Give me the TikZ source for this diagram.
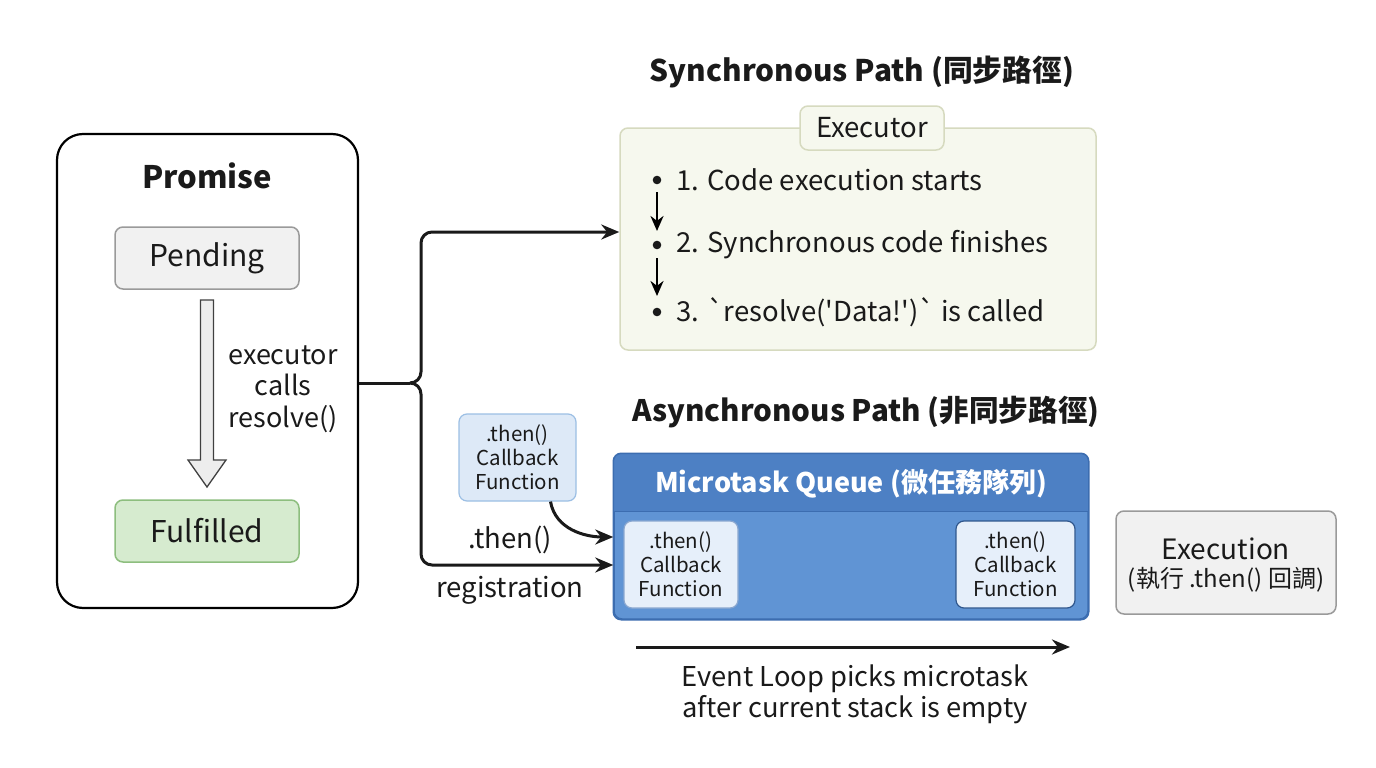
\documentclass[tikz,border=0pt]{standalone}
\usepackage{fontspec}
\setmainfont{Noto Sans CJK TC}[Ligatures=TeXOff]
\usetikzlibrary{arrows.meta,calc}
\definecolor{pendfill}{HTML}{F1F1F1}
\definecolor{pendline}{HTML}{9A9A9A}
\definecolor{fulfill}{HTML}{D6EBCF}
\definecolor{fulline}{HTML}{8DBE7E}
\definecolor{execfill}{HTML}{F6F8EE}
\definecolor{execline}{HTML}{D6DABF}
\definecolor{cbfill}{HTML}{DDE9F7}
\definecolor{cbline}{HTML}{9CBFE4}
\definecolor{qbody}{HTML}{6094D4}
\definecolor{qhead}{HTML}{4D80C4}
\definecolor{qline}{HTML}{3C6DB0}
\definecolor{inner}{HTML}{E6EFFA}
\definecolor{txt}{HTML}{1A1A1A}
\tikzset{
  box/.style={draw, rounded corners=8pt, line width=1.5pt, inner sep=0pt, align=center, text=txt},
  conn/.style={line width=3pt, -{Stealth[length=18pt,width=15pt]}, draw=txt},
  lbl/.style={text=txt, align=center, inner sep=0pt},
}
\begin{document}
\begin{tikzpicture}[x=1pt,y=-1pt]
\useasboundingbox[fill=white] (0,0) rectangle (1376,768);

% Promise
\node[box, draw=black, line width=2.2pt, rounded corners=26pt, minimum width=301pt, minimum height=474pt] (promise) at (207.5,371) {};
\node[lbl, font=\bfseries\fontsize{31}{34}\selectfont] (ptitle) at (207,176) {Promise};
\node[box, fill=pendfill, draw=pendline, minimum width=184pt, minimum height=62pt, font=\fontsize{30}{32}\selectfont] (pending) at (207,258) {Pending};
\node[box, fill=fulfill, draw=fulline, minimum width=184pt, minimum height=62pt, font=\fontsize{30}{32}\selectfont] (fulfilled) at (207,531) {Fulfilled};
% hollow arrow
\draw[line width=1.3pt, draw=black!75, fill=black!7, line join=miter]
  (200.5,300) -- (213.5,300) -- (213.5,460) -- (226,460) -- (207,487) -- (188,460) -- (200.5,460) -- cycle;
\node[lbl, font=\fontsize{27}{31.5}\selectfont] (execlbl) at (283,389) {executor\\calls\\resolve()};

% Synchronous path
\node[lbl, font=\bfseries\fontsize{29.8}{32}\selectfont] (stitle) at (862,72) {Synchronous Path (同步路徑)};
\node[box, fill=execfill, draw=execline, minimum width=476pt, minimum height=222pt] (exec) at (858,239) {};
\node[box, fill=execfill, draw=execline, minimum width=144pt, minimum height=44pt, font=\fontsize{27.5}{30}\selectfont] (exectab) at (872,128) {Executor};
\foreach \y/\t/\n in {180/{1. Code execution starts}/s1, 245/{2. Synchronous code finishes}/s2, 312/{3. `resolve('Data!')` is called}/s3}{
  \fill[txt] (657,\y) circle (4.3pt);
  \node[lbl, anchor=west, font=\fontsize{27.5}{30}\selectfont] (\n) at (676,\y) {\t};
}
\coordinate (a1s) at (657,192); \coordinate (a1e) at (657,231);
\coordinate (a2s) at (657,258); \coordinate (a2e) at (657,296);
\draw[line width=2.6pt, -{Stealth[length=15pt,width=13pt]}] (a1s) -- (a1e);
\draw[line width=2.6pt, -{Stealth[length=15pt,width=13pt]}] (a2s) -- (a2e);

% Asynchronous path
\node[lbl, font=\bfseries\fontsize{29.6}{32}\selectfont] (atitle) at (866,412) {Asynchronous Path (非同步路徑)};
\node[box, fill=qbody, draw=qline, minimum width=474pt, minimum height=165pt] (queue) at (851,536.5) {};
\fill[qhead, rounded corners=7pt] ($(queue.north west)+(0.75,0.75)$) rectangle ($(queue.north east)+(-0.75,58)$);
\fill[qhead] ($(queue.north west)+(0.75,30)$) rectangle ($(queue.north east)+(-0.75,58)$);
\draw[qline, line width=1.5pt] ($(queue.north west)+(0,58)$) -- ($(queue.north east)+(0,58)$);
\draw[qline, line width=1.5pt, rounded corners=8pt] (queue.north west) rectangle (queue.south east);
\node[lbl, text=white, font=\bfseries\fontsize{27}{29}\selectfont] (qtitle) at (851,484) {Microtask Queue (微任務隊列)};
\node[box, fill=inner, draw=qline!60, line width=1.2pt, minimum width=114pt, minimum height=87pt, font=\fontsize{20.5}{24}\selectfont] (cb1) at (681,564.5) {.then()\\Callback\\Function};
\node[box, fill=inner, draw=qline!80!black, line width=1.2pt, minimum width=119pt, minimum height=87pt, font=\fontsize{20.5}{24}\selectfont] (cb2) at (1015.5,564.5) {.then()\\Callback\\Function};

\node[box, fill=cbfill, draw=cbline, line width=1.2pt, minimum width=117pt, minimum height=87pt, font=\fontsize{20.5}{24}\selectfont] (cb0) at (517.5,457.5) {.then()\\Callback\\Function};

\node[box, fill=pendfill, draw=pendline, minimum width=220pt, minimum height=103pt] (execution) at (1226,562.5) {};
\node[lbl, font=\fontsize{28}{30}\selectfont] (ex1) at (1226,549) {Execution};
\node[lbl, font=\fontsize{24}{26}\selectfont] (ex2) at (1226,580) {(執行 .then() 回調)};

\node[lbl, font=\fontsize{27.5}{30}\selectfont] (thenlbl) at (510,540) {.then()};
\node[lbl, font=\fontsize{27.5}{30}\selectfont] (reglbl) at (510,590) {registration};

% connectors
\coordinate (fork) at (421,383);
\draw[line width=3pt, draw=txt] (promise.east |- fork) -- (410,383);
\draw[line width=3pt, draw=txt] (410,383) to[out=0,in=-90] (421,372);
\draw[line width=3pt, draw=txt] (410,383) to[out=0,in=90] (421,394);
\draw[conn, rounded corners=11pt] (421,372) -- (421,232) -- (exec.west |- 0,232);
\draw[conn, rounded corners=11pt] (421,394) -- (421,565) -- (queue.west |- 0,565);
\draw[conn] (cb0.south) ++(33,0) to[out=-80,in=180] (queue.west |- 0,537);

% event loop
\coordinate (el1) at (636,647); \coordinate (el2) at (1070,647);
\draw[conn] (el1) -- (el2);
\node[lbl, font=\fontsize{27.3}{31}\selectfont] (ellbl) at (855,694) {Event Loop picks microtask\\after current stack is empty};
\end{tikzpicture}
\end{document}
